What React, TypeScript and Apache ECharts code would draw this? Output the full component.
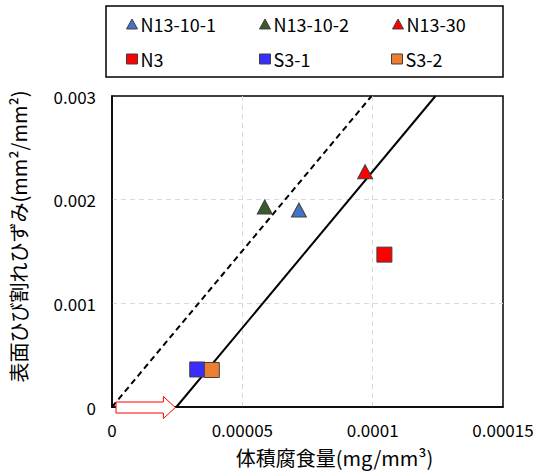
import React, { useEffect, useRef } from "react";
import * as echarts from "echarts";

const seriesNames = ["N13-10-1", "N13-10-2", "N13-30", "N3", "S3-1", "S3-2"];
const xValues = [0.0000717, 0.0000586, 0.0000971, 0.0001045, 0.0000327, 0.0000383];
const yValues = [0.0019, 0.00193, 0.00227, 0.00147, 0.000362, 0.000357];
const colors = ["#4472C4", "#3A5A27", "#FF0000", "#FF0000", "#3A2EFF", "#ED7D31"];
const symbols = ["triangle", "triangle", "triangle", "rect", "rect", "rect"];

const dashedX = [0, 0.0000996];
const dashedY = [0, 0.003];
const solidX = [0.0000247, 0.0001241];
const solidY = [0, 0.003];
const arrowFromTo = [0, 0.0000247];

const xTickLabels = ["0", "0.00005", "0.0001", "0.00015"];
const yTickLabels = ["0", "0.001", "0.002", "0.003"];

const FONT = "Noto Sans CJK JP";

export default function App() {
  const ref = useRef<HTMLDivElement>(null);
  useEffect(() => {
    const chart = echarts.init(ref.current!, null, { renderer: "svg" });
    const legendPos = [
      [126, 15], [259, 15], [392, 15],
      [126, 50], [259, 50], [391, 50],
    ];
    const scatterSeries = seriesNames.map((name, i) => ({
      name,
      type: "scatter",
      data: [[xValues[i], yValues[i]]],
      symbol: symbols[i],
      symbolSize: symbols[i] === "triangle" ? [15, 14] : 15,
      itemStyle: { color: colors[i], borderColor: "#404040", borderWidth: 1, opacity: 1 },
      z: 5,
    }));
    const splitLine = {
      show: true,
      showMinLine: false,
      showMaxLine: false,
      lineStyle: { color: "#d9d9d9", type: [5, 4], width: 1 },
    };
    const option: any = {
      animation: false,
      grid: {
        left: 109,
        right: 41,
        top: 96,
        bottom: 65,
        show: true,
        borderColor: "#000",
        borderWidth: 1.5,
        backgroundColor: "transparent",
      },
      legend: seriesNames.map((name, i) => ({
        data: [{ name, icon: symbols[i] === "triangle" ? "triangle" : "rect" }],
        left: legendPos[i][0],
        top: legendPos[i][1],
        padding: 0,
        itemWidth: 11,
        itemHeight: 10,
        selectedMode: false,
        textStyle: { fontFamily: FONT, fontSize: 18, color: "#000", padding: [0, 0, 0, -2] },
        itemStyle: { borderColor: "#404040", borderWidth: 1 },
      })),
      graphic: [
        {
          type: "rect",
          shape: { x: 106, y: 6, width: 397, height: 71 },
          style: { fill: "none", stroke: "#000", lineWidth: 1.5 },
        },
      ],
      xAxis: {
        type: "value",
        min: 0,
        max: 0.00015,
        interval: 0.00005,
        name: "体積腐食量(mg/mm³)",
        nameLocation: "middle",
        nameGap: 40,
        nameTextStyle: { fontFamily: FONT, fontSize: 20, color: "#000", padding: [0, 0, 0, 54] },
        axisLine: { show: true, lineStyle: { color: "#000", width: 1.5 } },
        axisTick: { show: false },
        axisLabel: {
          fontFamily: FONT,
          fontSize: 17,
          color: "#000",
          margin: 14,
          formatter: (v: number) => xTickLabels[Math.round(v / 0.00005)] ?? "",
        },
        splitLine,
      },
      yAxis: {
        type: "value",
        min: 0,
        max: 0.003,
        interval: 0.001,
        name: "表面ひび割れひずみ(mm²/mm²)",
        nameLocation: "middle",
        nameGap: 84,
        nameTextStyle: { fontFamily: FONT, fontSize: 20, color: "#000", padding: [0, 0, 0, 30] },
        axisLine: { show: true, lineStyle: { color: "#000", width: 1.5 } },
        axisTick: { show: false },
        axisLabel: {
          fontFamily: FONT,
          fontSize: 17,
          color: "#000",
          margin: 16,
          formatter: (v: number) => yTickLabels[Math.round(v / 0.001)] ?? "",
        },
        splitLine,
      },
      series: [
        {
          name: "dashed",
          type: "line",
          data: dashedX.map((x, i) => [x, dashedY[i]]),
          showSymbol: false,
          lineStyle: { color: "#000", width: 2, type: [6, 4] },
          z: 3,
        },
        {
          name: "solid",
          type: "line",
          data: solidX.map((x, i) => [x, solidY[i]]),
          showSymbol: false,
          lineStyle: { color: "#000", width: 2 },
          z: 3,
        },
        {
          name: "arrow",
          type: "custom",
          clip: false,
          z: 10,
          data: [[arrowFromTo[0], arrowFromTo[1]]],
          renderItem: (params: any, api: any) => {
            const p0 = api.coord([api.value(0), 0]);
            const p1 = api.coord([api.value(1), 0]);
            const x0 = p0[0] + 4;
            const x1 = p1[0] - 1;
            const y = p0[1] + 0.5;
            const headLen = 12;
            const sh = 5.5;
            const hh = 11;
            return {
              type: "polygon",
              shape: {
                points: [
                  [x0, y - sh],
                  [x1 - headLen, y - sh],
                  [x1 - headLen, y - hh],
                  [x1, y],
                  [x1 - headLen, y + hh],
                  [x1 - headLen, y + sh],
                  [x0, y + sh],
                ],
              },
              style: { fill: "#fff", stroke: "#FF0000", lineWidth: 1 },
            };
          },
        },
        ...scatterSeries,
      ],
    };
    chart.setOption(option);
    return () => chart.dispose();
  }, []);
  return (
    <div
      ref={ref}
      style={{ position: "fixed", left: 0, top: 0, width: 544, height: 472, background: "#fff" }}
    />
  );
}
